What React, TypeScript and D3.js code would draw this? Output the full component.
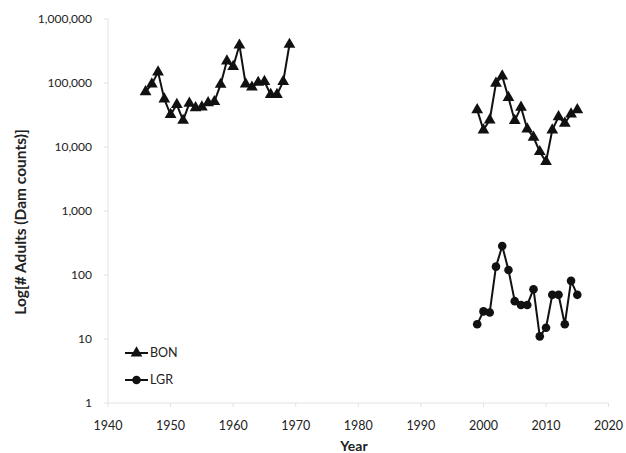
import React, { useEffect, useRef } from 'react';
import { select, scaleLinear, scaleLog, line, symbol, symbolTriangle, format } from 'd3';

const bonEarlyYears = [1946, 1947, 1948, 1949, 1950, 1951, 1952, 1953, 1954, 1955, 1956, 1957,
  1958, 1959, 1960, 1961, 1962, 1963, 1964, 1965, 1966, 1967, 1968, 1969];
const bonEarly = [73000, 96000, 148000, 56000, 32000, 46000, 26000, 48000, 41000, 42000, 49000, 51000,
  95000, 220000, 180000, 390000, 96000, 86000, 102000, 105000, 66000, 66000, 105000, 400000];

const lateYears = [1999, 2000, 2001, 2002, 2003, 2004, 2005, 2006, 2007, 2008, 2009, 2010,
  2011, 2012, 2013, 2014, 2015];
const bonLate = [38000, 18400, 26400, 99000, 128000, 59000, 25800, 41700, 19100, 14200, 8450, 5900,
  18400, 29700, 23500, 32800, 38000];
const lgr = [17, 27, 26, 135, 284, 120, 39, 34, 34, 60, 11, 15, 49, 49, 17, 81, 49];

const xTicks = [1940, 1950, 1960, 1970, 1980, 1990, 2000, 2010, 2020];
const yTicks = [1, 10, 100, 1000, 10000, 100000, 1000000];

const W = 626;
const H = 453;
const FONT = 'Lato, "Open Sans", sans-serif';

export default function App() {
  const svgRef = useRef(null);

  useEffect(() => {
    const svg = select(svgRef.current);
    svg.selectAll('*').remove();

    const x = scaleLinear().domain([1940, 2020]).range([108, 608.6]);
    const y = scaleLog().domain([1, 1000000]).range([403, 19]);
    const axisColor = '#e2e2e2';

    // axes (very faint in the original)
    svg.append('line')
      .attr('x1', x(1940)).attr('x2', x(2020))
      .attr('y1', y(1)).attr('y2', y(1))
      .attr('stroke', axisColor).attr('stroke-width', 1);
    svg.append('line')
      .attr('x1', x(1940)).attr('x2', x(1940))
      .attr('y1', y(1000000)).attr('y2', y(1))
      .attr('stroke', axisColor).attr('stroke-width', 1);

    svg.append('g')
      .selectAll('line')
      .data(xTicks)
      .join('line')
      .attr('x1', (d) => x(d)).attr('x2', (d) => x(d))
      .attr('y1', y(1)).attr('y2', y(1) + 4)
      .attr('stroke', axisColor);
    svg.append('g')
      .selectAll('line')
      .data(yTicks)
      .join('line')
      .attr('x1', x(1940) - 4).attr('x2', x(1940))
      .attr('y1', (d) => y(d)).attr('y2', (d) => y(d))
      .attr('stroke', axisColor);

    const fmt = format(',');
    svg.append('g')
      .selectAll('text')
      .data(yTicks)
      .join('text')
      .attr('x', 92)
      .attr('y', (d) => y(d))
      .attr('dy', '0.35em')
      .attr('text-anchor', 'end')
      .attr('font-family', FONT)
      .attr('font-size', 12)
      .attr('fill', '#222')
      .text((d) => fmt(d));

    svg.append('g')
      .selectAll('text')
      .data(xTicks)
      .join('text')
      .attr('x', (d) => x(d))
      .attr('y', 430)
      .attr('text-anchor', 'middle')
      .attr('font-family', FONT)
      .attr('font-size', 12.5)
      .attr('fill', '#222')
      .text((d) => d);

    svg.append('text')
      .attr('x', 354).attr('y', 451)
      .attr('text-anchor', 'middle')
      .attr('font-family', FONT)
      .attr('font-size', 14)
      .attr('font-weight', 'bold')
      .attr('fill', '#222')
      .text('Year');

    svg.append('text')
      .attr('transform', `translate(26, 222) rotate(-90)`)
      .attr('text-anchor', 'middle')
      .attr('font-family', FONT)
      .attr('font-size', 15.5)
      .attr('font-weight', 'bold')
      .attr('fill', '#222')
      .text('Log[# Adults (Dam counts)]');

    const stroke = '#111';
    const tri = symbol().type(symbolTriangle).size(60);

    const drawSeries = (years, vals, marker) => {
      const pts = years.map((yr, i) => [yr, vals[i]]);
      const gen = line().x((d) => x(d[0])).y((d) => y(d[1]));
      svg.append('path')
        .attr('d', gen(pts))
        .attr('fill', 'none')
        .attr('stroke', stroke)
        .attr('stroke-width', 2)
        .attr('stroke-linejoin', 'round');
      const g = svg.append('g');
      if (marker === 'tri') {
        g.selectAll('path')
          .data(pts)
          .join('path')
          .attr('d', tri())
          .attr('transform', (d) => `translate(${x(d[0])},${y(d[1])})`)
          .attr('fill', stroke);
      } else {
        g.selectAll('circle')
          .data(pts)
          .join('circle')
          .attr('cx', (d) => x(d[0]))
          .attr('cy', (d) => y(d[1]))
          .attr('r', 4.3)
          .attr('fill', stroke);
      }
    };

    drawSeries(bonEarlyYears, bonEarly, 'tri');
    drawSeries(lateYears, bonLate, 'tri');
    drawSeries(lateYears, lgr, 'circle');

    // legend
    const legend = [
      { name: 'BON', marker: 'tri', yy: 353 },
      { name: 'LGR', marker: 'circle', yy: 380 },
    ];
    legend.forEach((l) => {
      svg.append('line')
        .attr('x1', 125).attr('x2', 148)
        .attr('y1', l.yy).attr('y2', l.yy)
        .attr('stroke', stroke).attr('stroke-width', 2);
      if (l.marker === 'tri') {
        svg.append('path')
          .attr('d', tri())
          .attr('transform', `translate(136.5,${l.yy})`)
          .attr('fill', stroke);
      } else {
        svg.append('circle')
          .attr('cx', 136.5).attr('cy', l.yy).attr('r', 4.3)
          .attr('fill', stroke);
      }
      svg.append('text')
        .attr('x', 150).attr('y', l.yy)
        .attr('dy', '0.35em')
        .attr('font-family', FONT)
        .attr('font-size', 12.5)
        .attr('fill', '#222')
        .text(l.name);
    });
  }, []);

  return (
    <div style={{ position: 'absolute', left: 0, top: 0, width: W, height: H, background: '#fff' }}>
      <svg ref={svgRef} width={W} height={H} style={{ display: 'block' }} />
    </div>
  );
}
